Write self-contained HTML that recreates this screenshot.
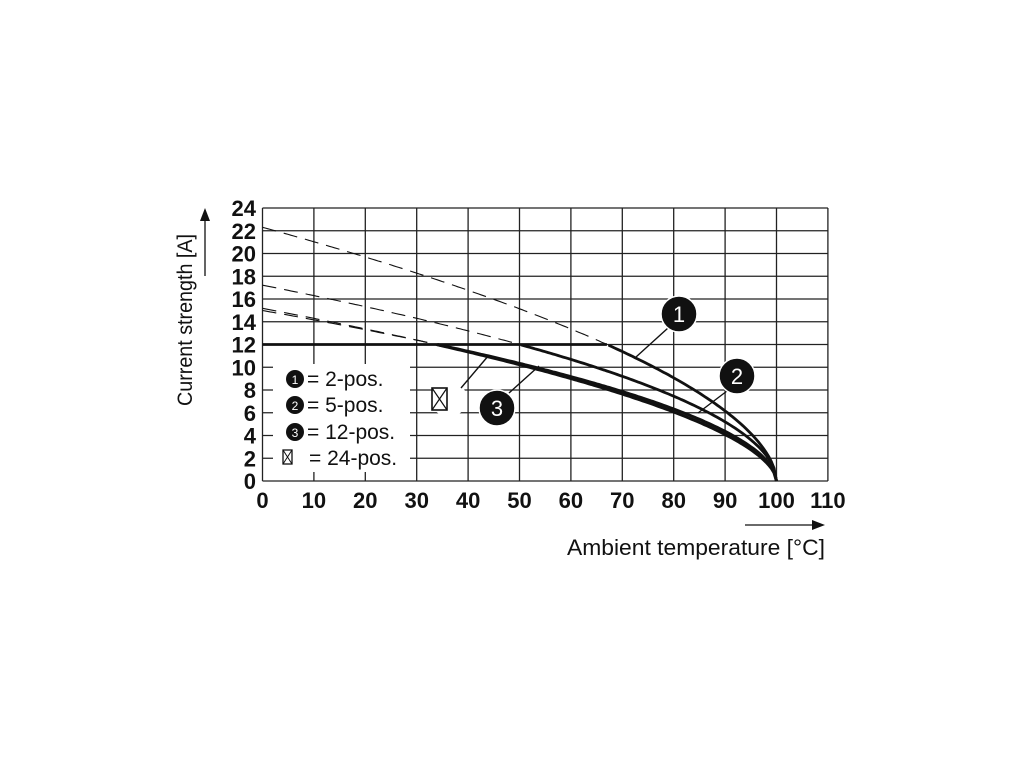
<!DOCTYPE html>
<html><head><meta charset="utf-8"><style>
html,body{margin:0;padding:0;background:#fff}
svg{display:block}
text{font-family:"Liberation Sans",Arial,sans-serif;fill:#111}
.t{font-weight:bold;font-size:22px}
</style></head><body>
<svg id="s" width="1020" height="765" viewBox="0 0 1020 765" xmlns="http://www.w3.org/2000/svg">
<g id="grid" stroke="#222" stroke-width="1.3" fill="none"></g>
<g id="curves" fill="none" stroke="#111"></g>
<g id="labels"></g>
<rect x="273" y="364" width="137" height="108" fill="#fff"/>
<circle cx="295" cy="379" r="9" fill="#111"/><text x="295" y="384" font-size="12" text-anchor="middle" style="fill:#fff">1</text>
<text x="307" y="386" font-size="21">= 2-pos.</text>
<circle cx="295" cy="405" r="9" fill="#111"/><text x="295" y="410" font-size="12" text-anchor="middle" style="fill:#fff">2</text>
<text x="307" y="412" font-size="21">= 5-pos.</text>
<circle cx="295" cy="432" r="9" fill="#111"/><text x="295" y="437" font-size="12" text-anchor="middle" style="fill:#fff">3</text>
<text x="307" y="439" font-size="21">= 12-pos.</text>
<rect x="283" y="450" width="9" height="14" fill="none" stroke="#111" stroke-width="1.3"/>
<path d="M283 450L292 464M292 450L283 464" stroke="#111" stroke-width="1"/>
<text x="309" y="465" font-size="21">= 24-pos.</text>
<circle cx="449" cy="399" r="18" fill="#fff"/>
<rect x="432" y="388" width="15" height="22" fill="none" stroke="#111" stroke-width="1.6"/>
<path d="M432 388L447 410M447 388L432 410" stroke="#111" stroke-width="1.2"/>
<g stroke="#111" stroke-width="1.4">
<line x1="668" y1="328" x2="636" y2="357"/>
<line x1="727" y1="391" x2="698" y2="413"/>
<line x1="509" y1="393" x2="539" y2="366"/>
<line x1="461" y1="388" x2="489" y2="355"/>
</g>
<g stroke="#fff" stroke-width="1.5">
<circle cx="679" cy="314" r="18" fill="#111"/>
<circle cx="737" cy="376" r="18" fill="#111"/>
<circle cx="497" cy="408" r="18" fill="#111"/>
</g>
<text x="679" y="322" font-size="22" text-anchor="middle" style="fill:#fff">1</text>
<text x="737" y="384" font-size="22" text-anchor="middle" style="fill:#fff">2</text>
<text x="497" y="416" font-size="22" text-anchor="middle" style="fill:#fff">3</text>
<text x="567" y="555" font-size="22" textLength="258" lengthAdjust="spacingAndGlyphs">Ambient temperature [°C]</text>
<line x1="745" y1="525" x2="815" y2="525" stroke="#111" stroke-width="1.3"/>
<path d="M825 525L812 520L812 530Z" fill="#111"/>
<text transform="translate(192,406) rotate(-90)" font-size="21" textLength="172" lengthAdjust="spacingAndGlyphs">Current strength [A]</text>
<line x1="205" y1="276" x2="205" y2="218" stroke="#111" stroke-width="1.3"/>
<path d="M205 208L200 221L210 221Z" fill="#111"/>
</svg>
<script>
var NS="http://www.w3.org/2000/svg";
function X(t){return 262.5+t*5.14}
function Y(i){return 481-i*11.375}
function el(p,n,a){var e=document.createElementNS(NS,n);for(var k in a)e.setAttribute(k,a[k]);p.appendChild(e);return e}
var g=document.getElementById('grid');
for(var t=0;t<=110;t+=10)el(g,'line',{x1:X(t),y1:Y(0),x2:X(t),y2:Y(24)});
for(var i=0;i<=24;i+=2)el(g,'line',{x1:X(0),y1:Y(i),x2:X(110),y2:Y(i)});
var L=document.getElementById('labels');
for(var i=0;i<=24;i+=2){var e=el(L,'text',{x:256,y:Y(i)+8,'text-anchor':'end','class':'t'});e.textContent=i;}
for(var t=0;t<=110;t+=10){var e=el(L,'text',{x:X(t),y:508,'text-anchor':'middle','class':'t'});e.textContent=t;}
var c=document.getElementById('curves');
function curve(cc,p,w){var d1='',d2='';var cross=null;
 for(var t=0;t<=100;t+=0.5){var v=cc*Math.pow(100-t,p);
  if(v>12){d1+=(d1?'L':'M')+X(t).toFixed(1)+' '+Y(v).toFixed(1);}
  else{if(cross===null){cross=t;d2='M'+X(t).toFixed(1)+' '+Y(12).toFixed(1);}d2+='L'+X(t).toFixed(1)+' '+Y(v).toFixed(1);}}
 el(c,'path',{d:d1,'stroke-width':1.1,'stroke-dasharray':'14 8'});
 el(c,'path',{d:d2,'stroke-width':w});
 return cross;}
curve(1.70,0.559,2.8);
curve(1.57,0.52,2.8);
curve(1.10,0.57,3);
curve(1.27,0.536,3);
el(c,'line',{x1:X(0),y1:Y(12),x2:X(67),y2:Y(12),'stroke-width':2.8});
</script>
</body></html>
